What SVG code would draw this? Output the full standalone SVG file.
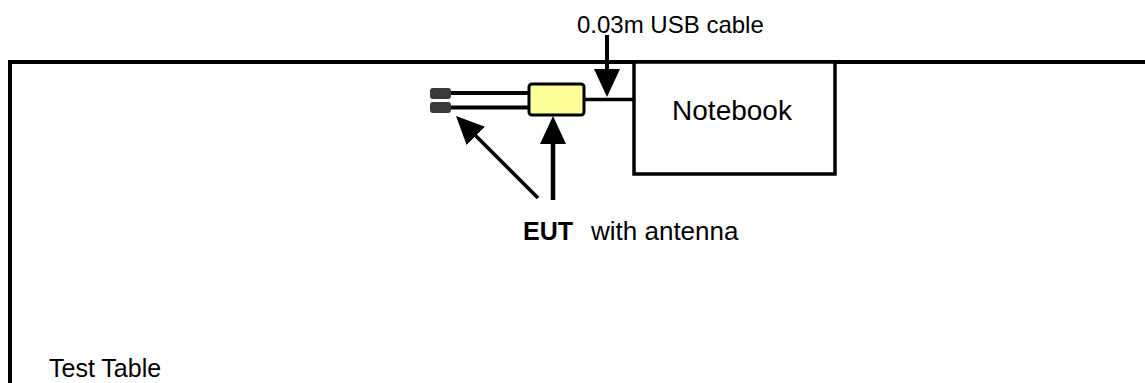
<svg xmlns="http://www.w3.org/2000/svg" width="1145" height="383" viewBox="0 0 1145 383">
<style>
  text { font-family: "Liberation Sans", Arial, sans-serif; fill: #000; }
  .ln { stroke: #000; fill: none; }
</style>
<defs>
  <marker id="ah" viewBox="0 0 28 26" refX="4" refY="13" markerWidth="28" markerHeight="26" markerUnits="userSpaceOnUse" orient="auto">
    <path d="M0,0 L28,13 L0,26 z" fill="#000"/>
  </marker>
</defs>
<rect width="1145" height="383" fill="#fff"/>
<g id="test-table">
  <path class="ln" d="M10,383 L10,62 L1145,62" stroke-width="4"/>
  <text x="49" y="377" font-size="25">Test Table</text>
</g>
<g id="notebook">
  <rect x="634" y="62" width="201" height="112" fill="#fff" stroke="#000" stroke-width="3.5"/>
  <text x="732" y="120" font-size="28" text-anchor="middle">Notebook</text>
</g>
<g id="eut">
  <line class="ln" x1="450" y1="93" x2="529" y2="93" stroke-width="4"/>
  <line class="ln" x1="450" y1="107.5" x2="529" y2="107.5" stroke-width="4"/>
  <rect x="430" y="88" width="21" height="11" rx="3" fill="#3a3a3a"/>
  <rect x="430" y="102" width="21" height="11" rx="3" fill="#3a3a3a"/>
  <rect x="529" y="84" width="55" height="31" rx="3" fill="#FFFF99" stroke="#000" stroke-width="3"/>
</g>
<g id="labels">
  <text x="577" y="32.5" font-size="24">0.03m USB cable</text>
  <text x="523" y="240" font-size="25" font-weight="bold">EUT</text>
  <text x="591" y="240" font-size="26">with antenna</text>
</g>
<g id="connectors">
  <line class="ln" x1="584" y1="99.5" x2="634" y2="99.5" stroke-width="3.5"/>
  <line class="ln" x1="607" y1="35" x2="607" y2="73" stroke-width="4" marker-end="url(#ah)"/>
  <line class="ln" x1="553" y1="200" x2="553" y2="140" stroke-width="4.5" marker-end="url(#ah)"/>
  <line class="ln" x1="538" y1="198" x2="473" y2="133" stroke-width="3.5" marker-end="url(#ah)"/>
</g>
</svg>
